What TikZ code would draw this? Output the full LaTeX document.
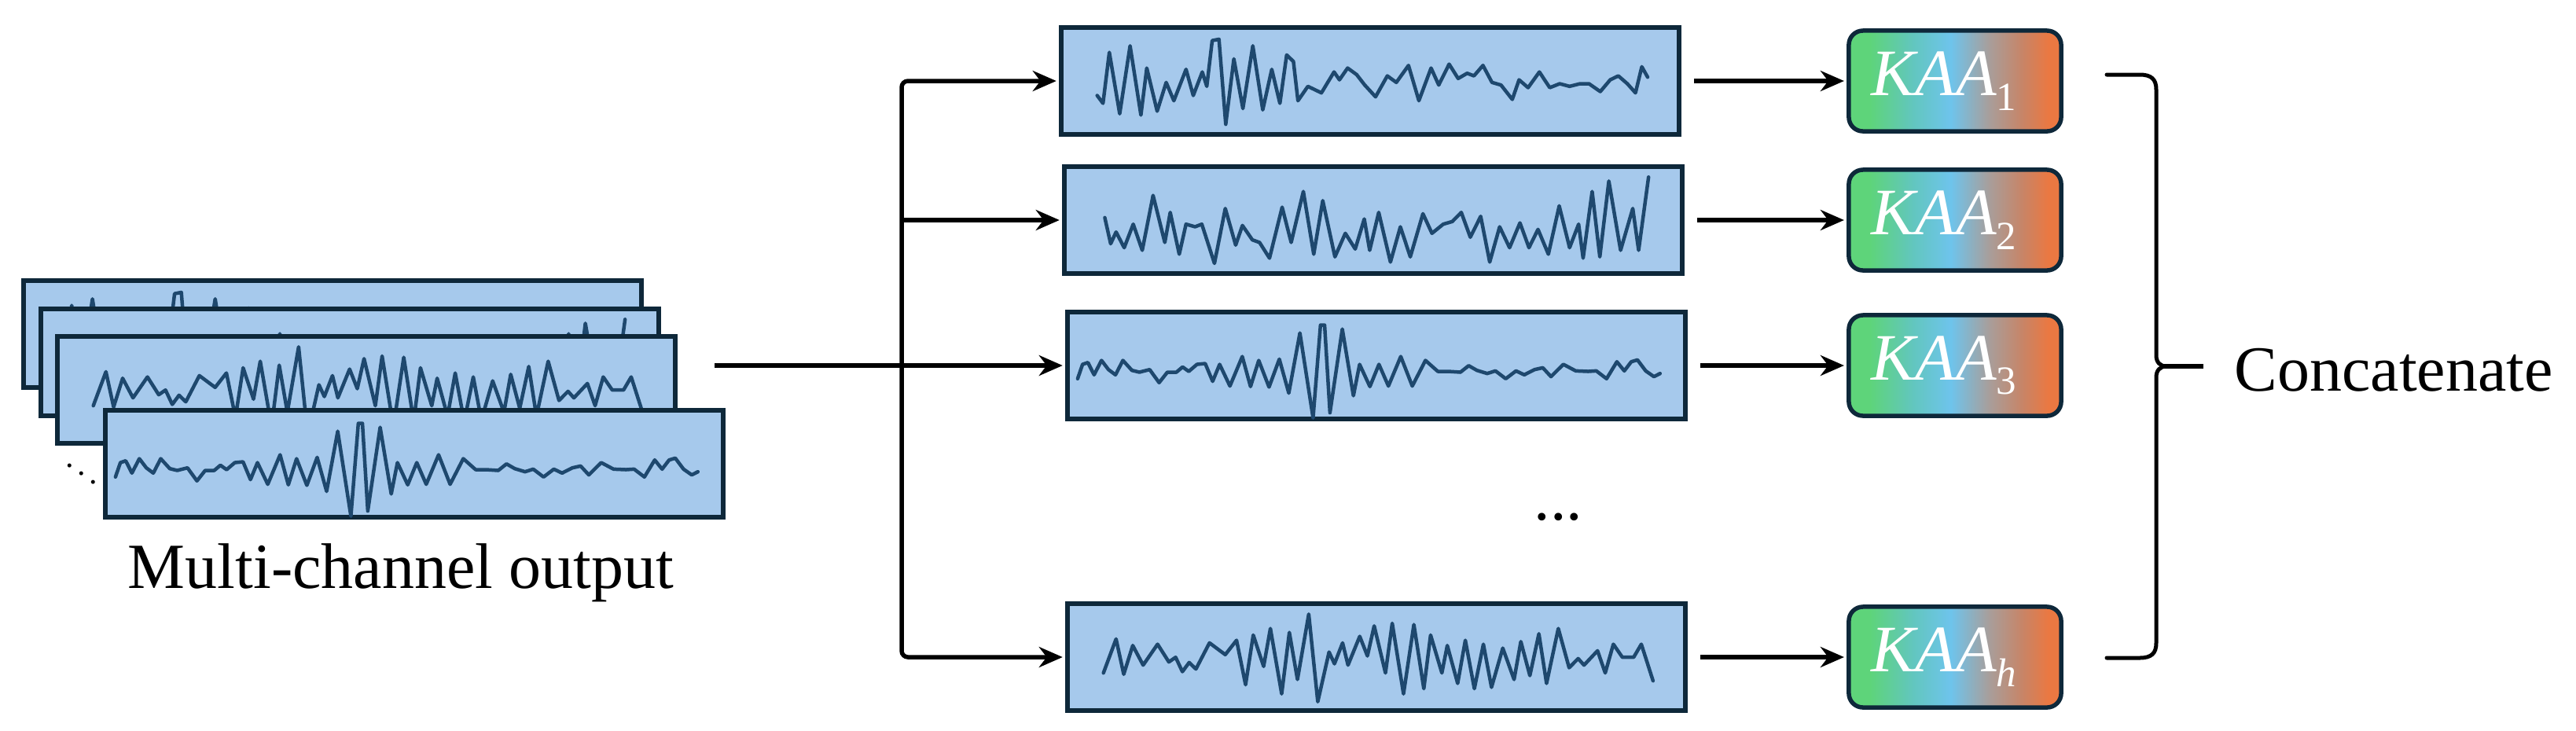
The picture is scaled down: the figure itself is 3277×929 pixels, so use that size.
\documentclass[tikz,border=0pt]{standalone}
\usepackage{fontspec}
\setmainfont{Liberation Serif}
\usetikzlibrary{arrows.meta}
\definecolor{sigfill}{RGB}{166,201,236}
\definecolor{sigdraw}{RGB}{14,40,58}
\definecolor{wavecol}{RGB}{30,72,110}
\definecolor{kg}{RGB}{94,212,122}
\definecolor{kt}{RGB}{98,198,190}
\definecolor{kb}{RGB}{110,196,236}
\definecolor{kgr}{RGB}{168,158,155}
\definecolor{kbr}{RGB}{200,132,102}
\definecolor{ko}{RGB}{234,120,66}
\pgfdeclarehorizontalshading{kaashade}{100bp}{color(0bp)=(kg); color(30bp)=(kg); color(40bp)=(kt); color(49bp)=(kb); color(58bp)=(kgr); color(66bp)=(kbr); color(72bp)=(ko); color(100bp)=(ko)}
\tikzset{
  sigbox/.style={draw=sigdraw, line width=0.055cm, fill=sigfill, minimum width=7.86cm, minimum height=1.36cm, inner sep=0, outer sep=0},
  kaabox/.style={draw=sigdraw, line width=0.055cm, rounded corners=0.18cm, shade, shading=kaashade, minimum width=2.70cm, minimum height=1.28cm, inner sep=0, outer sep=0, text=white, font=\fontsize{24}{28}\selectfont},
  wave/.style={draw=wavecol, line width=0.045cm, line join=round, line cap=round},
  conn/.style={line width=0.055cm, draw=black},
  arr/.style={conn, -{Stealth[length=0.3cm, width=0.26cm]}, shorten >=0.06cm},
  lbl/.style={font=\fontsize{23.3}{28}\selectfont, inner sep=0},
}
\newcommand{\kaa}[1]{{\itshape KAA}\raisebox{-0.22em}{\fontsize{14.5}{15}\selectfont #1}\hspace*{0.28cm}}
\newcommand{\drawwave}[5]{\begin{scope}[shift={(#1.north west)}]\begin{scope}[x=#2, y=-0.003333cm, shift={(-#3,-#4)}]#5\end{scope}\end{scope}}
\newcommand{\waveA}{\draw[wave] (165,300) -- (178,330) -- (192,135) -- (215,370) -- (238,110) -- (262,375) -- (275,195) -- (298,360) -- (318,250) -- (335,320) -- (362,200) -- (378,300) -- (398,210) -- (408,265) -- (420,90) -- (435,85) -- (450,410) -- (468,160) -- (488,350) -- (510,110) -- (532,355) -- (552,200) -- (570,330) -- (585,145) -- (600,170) -- (610,320) -- (632,265) -- (662,290) -- (690,210) -- (702,240) -- (720,195) -- (740,220) -- (758,260) -- (782,305) -- (808,225) -- (828,250) -- (855,185) -- (878,320) -- (905,195) -- (922,260) -- (945,180) -- (965,235) -- (985,215) -- (1000,225) -- (1020,185) -- (1040,250) -- (1060,260) -- (1085,315) -- (1100,240) -- (1120,270) -- (1145,210) -- (1168,270) -- (1190,255) -- (1212,265) -- (1235,255) -- (1255,255) -- (1280,285) -- (1302,240) -- (1320,225) -- (1340,255) -- (1358,290) -- (1372,190) -- (1385,230);}
\newcommand{\waveB}{\draw[wave] (185,765) -- (198,865) -- (210,820) -- (228,880) -- (248,790) -- (268,890) -- (292,680) -- (318,860) -- (330,745) -- (350,905) -- (365,790) -- (385,800) -- (400,790) -- (428,940) -- (452,730) -- (475,870) -- (490,795) -- (512,850) -- (528,860) -- (550,920) -- (578,725) -- (598,860) -- (625,665) -- (648,905) -- (668,700) -- (695,915) -- (718,825) -- (740,885) -- (760,770) -- (772,890) -- (792,745) -- (818,935) -- (840,800) -- (862,915) -- (890,750) -- (910,825) -- (935,790) -- (955,780) -- (975,745) -- (995,840) -- (1018,760) -- (1038,935) -- (1060,800) -- (1082,880) -- (1105,785) -- (1125,880) -- (1145,810) -- (1168,905) -- (1192,720) -- (1215,880) -- (1235,790) -- (1245,920) -- (1265,665) -- (1282,915) -- (1302,625) -- (1328,890) -- (1355,730) -- (1368,890) -- (1390,610);}
\newcommand{\waveC}{\draw[wave] (60,290) -- (72,235) -- (85,228) -- (100,275) -- (118,220) -- (135,255) -- (152,275) -- (170,220) -- (192,258) -- (210,265) -- (235,255) -- (258,305) -- (278,265) -- (300,265) -- (315,245) -- (330,262) -- (350,235) -- (370,232) -- (388,300) -- (405,235) -- (430,318) -- (460,205) -- (480,320) -- (500,220) -- (525,322) -- (550,215) -- (573,345) -- (600,115) -- (632,440) -- (650,85) -- (660,85) -- (673,420) -- (703,100) -- (730,355) -- (745,235) -- (770,320) -- (792,235) -- (815,318) -- (845,205) -- (873,318) -- (905,220) -- (935,262) -- (960,262) -- (990,265) -- (1010,240) -- (1030,258) -- (1055,270) -- (1075,260) -- (1100,290) -- (1125,260) -- (1145,275) -- (1170,255) -- (1190,248) -- (1210,282) -- (1240,235) -- (1270,260) -- (1300,262) -- (1320,260) -- (1345,290) -- (1370,225) -- (1388,260) -- (1405,225) -- (1420,218) -- (1440,260) -- (1460,282) -- (1475,270);}
\newcommand{\waveH}{\draw[wave] (180,460) -- (208,330) -- (225,465) -- (245,355) -- (268,430) -- (300,350) -- (325,418) -- (340,400) -- (355,455) -- (370,420) -- (385,445) -- (415,345) -- (450,390) -- (475,335) -- (495,505) -- (512,315) -- (535,435) -- (550,290) -- (575,540) -- (592,305) -- (610,485) -- (635,235) -- (655,570) -- (680,380) -- (692,425) -- (710,345) -- (722,430) -- (748,320) -- (765,395) -- (780,280) -- (805,460) -- (820,270) -- (845,540) -- (868,275) -- (890,520) -- (905,315) -- (930,460) -- (942,355) -- (965,500) -- (982,335) -- (1002,520) -- (1022,350) -- (1040,515) -- (1065,365) -- (1090,485) -- (1105,340) -- (1125,470) -- (1145,310) -- (1162,500) -- (1188,290) -- (1212,440) -- (1232,405) -- (1245,430) -- (1275,375) -- (1292,460) -- (1310,350) -- (1330,400) -- (1355,400) -- (1372,350) -- (1398,490);}
\begin{document}
\begin{tikzpicture}[x=0.01cm, y=-0.01cm]
\useasboundingbox (0,0) rectangle (3277,929);
% stacked channels
\node[sigbox] (sA) at (423,425) {};
\drawwave{sA}{0.00574cm}{85}{40}{\waveA}
\node[sigbox] (sB) at (445,461) {};
\drawwave{sB}{0.00574cm}{95}{570}{\waveB}
\node[sigbox] (sC) at (466,496) {};
\drawwave{sC}{0.00574cm}{100}{195}{\waveH}
\node[sigbox] (sD) at (527,590) {};
\drawwave{sD}{0.00523cm}{35}{35}{\waveC}
\node[inner sep=0, font=\fontsize{12}{12}\selectfont] (vd) at (104,592) {$\ddots$};
\node[lbl, anchor=base] (mco) at (510,748) {Multi-channel output};
% heads
\node[sigbox] (b1) at (1743,103) {};
\drawwave{b1}{0.00574cm}{85}{40}{\waveA}
\node[sigbox] (b2) at (1747,280) {};
\drawwave{b2}{0.00574cm}{95}{570}{\waveB}
\node[sigbox] (b3) at (1751,465) {};
\drawwave{b3}{0.00523cm}{35}{35}{\waveC}
\node[sigbox] (bh) at (1751,836) {};
\drawwave{bh}{0.00574cm}{100}{195}{\waveH}
\node[lbl, anchor=base west] (dots) at (1951,661) {...};
% KAA blocks
\node[kaabox] (k1) at (2487,103) {\kaa{1}};
\node[kaabox] (k2) at (2487,280) {\kaa{2}};
\node[kaabox] (k3) at (2487,465) {\kaa{3}};
\node[kaabox] (kh) at (2487,836) {\kaa{\itshape h}};
% connectors
\coordinate (src) at (909,465);
\coordinate (bus) at (1147,465);
\draw[arr] (src) -- (b3.west);
\draw[arr, rounded corners=0.08cm] (bus) |- (b1.west);
\draw[arr, rounded corners=0.08cm] (bus) |- (bh.west);
\draw[arr] (bus |- b2.west) -- (b2.west);
\draw[arr, shorten <=0.19cm] (b1.east) -- (k1.west);
\draw[arr, shorten <=0.19cm] (b2.east) -- (k2.west);
\draw[arr, shorten <=0.19cm] (b3.east) -- (k3.west);
\draw[arr, shorten <=0.19cm] (bh.east) -- (kh.west);
% brace
\draw[conn, line width=0.05cm, line cap=round] (2680,95) -- (2722,95) .. controls (2737,95) and (2743,101) .. (2743,114) -- (2743,452) .. controls (2743,461) and (2748,466) .. (2756,466) .. controls (2748,466) and (2743,471) .. (2743,480) -- (2743,818) .. controls (2743,831) and (2737,837) .. (2722,837) -- (2680,837);
\draw[conn] (2748,466) -- (2803,466);
\node[lbl, anchor=base west] (cat) at (2842,497) {Concatenate};
\end{tikzpicture}
\end{document}
